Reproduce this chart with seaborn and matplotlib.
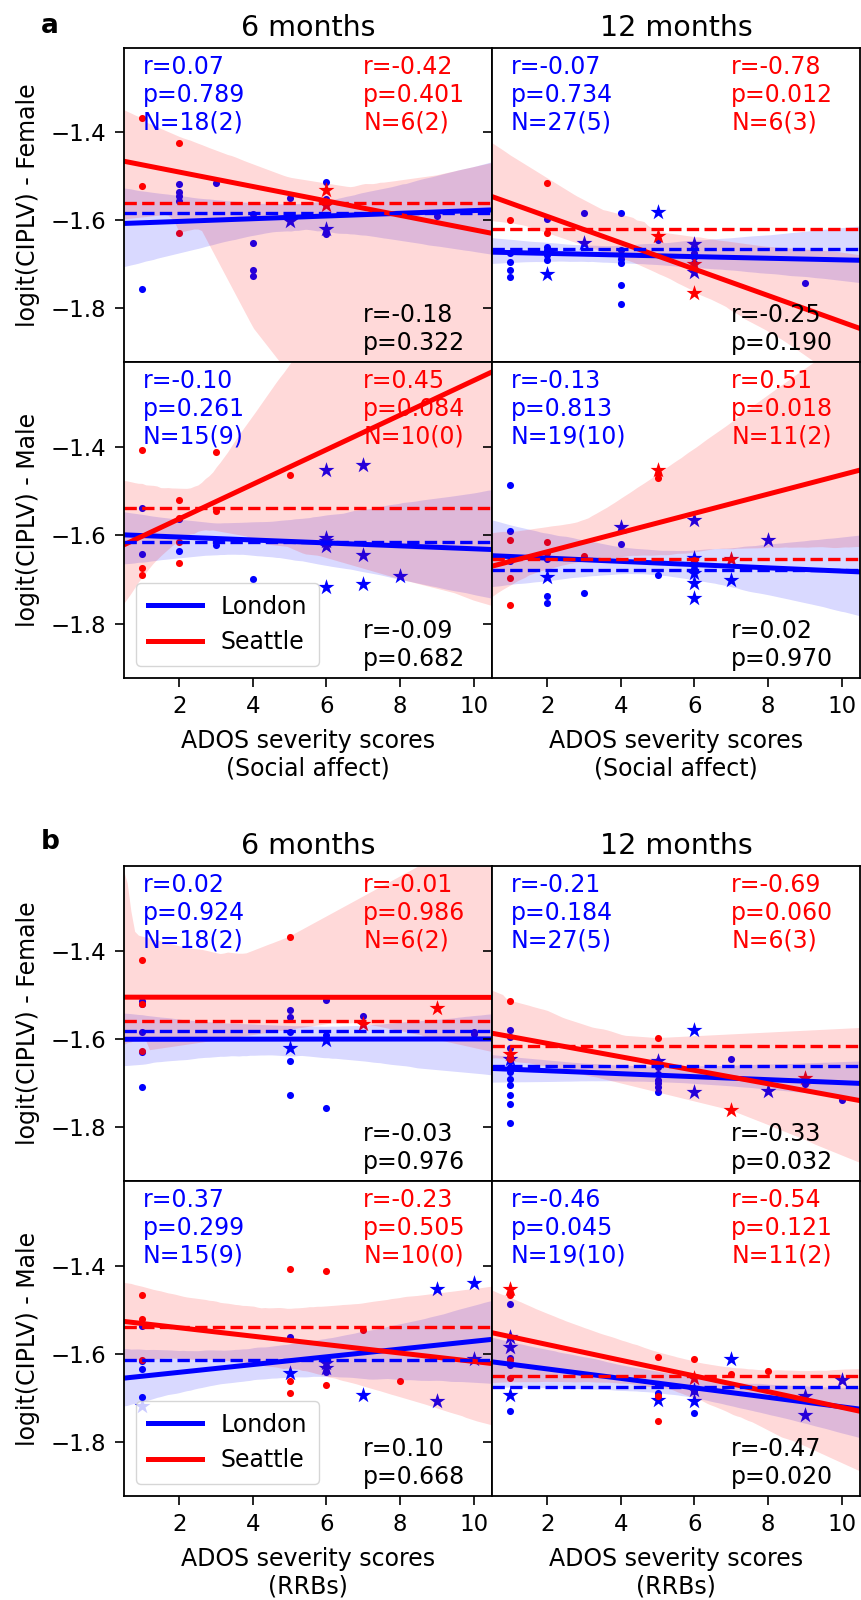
import numpy as np
import pandas as pd
import seaborn as sns
import matplotlib.pyplot as plt

# ---------------- block a : ADOS social affect ----------------
# 6 months, female
a6f_lon_dots = [(1, -1.757), (2, -1.518), (2, -1.535), (2, -1.545), (2, -1.555), (3, -1.515),
                (4, -1.585), (4, -1.651), (4, -1.712), (4, -1.727), (5, -1.549), (6, -1.513),
                (6, -1.551), (6, -1.562), (6, -1.630), (9, -1.589)]
a6f_lon_stars = [(5, -1.602), (6, -1.620)]
a6f_sea_dots = [(1, -1.368), (1, -1.522), (2, -1.423), (2, -1.629)]
a6f_sea_stars = [(6, -1.532), (6, -1.565)]
a6f_means = [-1.583, -1.561]
a6f_text = ["r=0.07\np=0.789\nN=18(2)", "r=-0.42\np=0.401\nN=6(2)", "r=-0.18\np=0.322"]

# 12 months, female
a12f_lon_dots = [(1, -1.675), (1, -1.694), (1, -1.712), (1, -1.728), (2, -1.596), (2, -1.660),
                 (2, -1.668), (2, -1.679), (2, -1.691), (3, -1.583), (4, -1.583), (4, -1.668),
                 (4, -1.679), (4, -1.687), (4, -1.698), (4, -1.748), (4, -1.791), (5, -1.645),
                 (6, -1.675), (6, -1.683), (6, -1.698), (9, -1.742)]
a12f_lon_stars = [(2, -1.723), (3, -1.651), (5, -1.581), (6, -1.653), (6, -1.717)]
a12f_sea_dots = [(1, -1.600), (2, -1.515), (2, -1.629)]
a12f_sea_stars = [(5, -1.636), (6, -1.700), (6, -1.765)]
a12f_means = [-1.664, -1.620]
a12f_text = ["r=-0.07\np=0.734\nN=27(5)", "r=-0.78\np=0.012\nN=6(3)", "r=-0.25\np=0.190"]

# 6 months, male
a6m_lon_dots = [(1, -1.537), (1, -1.641), (2, -1.562), (2, -1.635), (3, -1.622), (4, -1.699)]
a6m_lon_stars = [(6, -1.451), (6, -1.605), (6, -1.613), (6, -1.624), (6, -1.717), (7, -1.440),
                 (7, -1.645), (7, -1.709), (8, -1.692)]
a6m_sea_dots = [(1, -1.407), (1, -1.673), (1, -1.690), (2, -1.519), (2, -1.560), (2, -1.615),
                (2, -1.662), (3, -1.411), (3, -1.545), (5, -1.464)]
a6m_sea_stars = []
a6m_means = [-1.614, -1.539]
a6m_text = ["r=-0.10\np=0.261\nN=15(9)", "r=0.45\np=0.084\nN=10(0)", "r=-0.09\np=0.682"]

# 12 months, male
a12m_lon_dots = [(1, -1.487), (1, -1.590), (1, -1.658), (2, -1.654), (2, -1.736), (2, -1.752),
                 (3, -1.731), (4, -1.619), (5, -1.690)]
a12m_lon_stars = [(2, -1.693), (4, -1.581), (6, -1.564), (6, -1.650), (6, -1.669), (6, -1.684),
                  (6, -1.707), (6, -1.741), (7, -1.701), (8, -1.611)]
a12m_sea_dots = [(1, -1.611), (1, -1.697), (1, -1.756), (2, -1.614), (2, -1.639), (3, -1.647),
                 (5, -1.462), (5, -1.471), (6, -1.655)]
a12m_sea_stars = [(5, -1.451), (7, -1.654)]
a12m_means = [-1.677, -1.652]
a12m_text = ["r=-0.13\np=0.813\nN=19(10)", "r=0.51\np=0.018\nN=11(2)", "r=0.02\np=0.970"]

# ---------------- block b : ADOS RRBs ----------------
b6f_lon_dots = [(1, -1.514), (1, -1.521), (1, -1.585), (1, -1.630), (1, -1.709), (5, -1.535),
                (5, -1.551), (5, -1.585), (5, -1.650), (5, -1.726), (6, -1.512), (6, -1.590),
                (6, -1.756), (7, -1.547), (10, -1.585), (10, -1.589)]
b6f_lon_stars = [(5, -1.621), (6, -1.602)]
b6f_sea_dots = [(1, -1.422), (1, -1.520), (1, -1.628), (5, -1.368)]
b6f_sea_stars = [(7, -1.565), (9, -1.530)]
b6f_means = [-1.583, -1.560]
b6f_text = ["r=0.02\np=0.924\nN=18(2)", "r=-0.01\np=0.986\nN=6(2)", "r=-0.03\np=0.976"]

b12f_lon_dots = [(1, -1.580), (1, -1.595), (1, -1.620), (1, -1.640), (1, -1.649), (1, -1.664),
                 (1, -1.675), (1, -1.690), (1, -1.705), (1, -1.728), (1, -1.747), (1, -1.790),
                 (5, -1.650), (5, -1.664), (5, -1.679), (5, -1.694), (5, -1.700), (5, -1.709),
                 (5, -1.720), (7, -1.646), (9, -1.702), (10, -1.739)]
b12f_lon_stars = [(1, -1.645), (5, -1.649), (6, -1.580), (6, -1.720), (8, -1.717)]
b12f_sea_dots = [(1, -1.515), (1, -1.645), (5, -1.598)]
b12f_sea_stars = [(1, -1.634), (7, -1.762), (9, -1.689)]
b12f_means = [-1.662, -1.617]
b12f_text = ["r=-0.21\np=0.184\nN=27(5)", "r=-0.69\np=0.060\nN=6(3)", "r=-0.33\np=0.032"]

b6m_lon_dots = [(1, -1.537), (1, -1.617), (1, -1.634), (1, -1.697), (5, -1.561), (6, -1.640)]
b6m_lon_stars = [(1, -1.718), (5, -1.643), (6, -1.621), (6, -1.632), (7, -1.692), (9, -1.452),
                 (9, -1.707), (10, -1.440), (10, -1.612)]
b6m_sea_dots = [(1, -1.466), (1, -1.520), (1, -1.614), (5, -1.407), (5, -1.661), (5, -1.689),
                (6, -1.411), (6, -1.671), (7, -1.545), (8, -1.661)]
b6m_sea_stars = []
b6m_means = [-1.6135, -1.5385]
b6m_text = ["r=0.37\np=0.299\nN=15(9)", "r=-0.23\np=0.505\nN=10(0)", "r=0.10\np=0.668"]

b12m_lon_dots = [(1, -1.4875), (1, -1.610), (1, -1.625), (1, -1.730), (5, -1.670), (5, -1.6885),
                 (5, -1.695), (6, -1.685), (6, -1.7335)]
b12m_lon_stars = [(1, -1.561), (1, -1.585), (1, -1.692), (5, -1.7035), (6, -1.681), (6, -1.707),
                  (7, -1.612), (9, -1.696), (9, -1.7395), (10, -1.6585)]
b12m_sea_dots = [(1, -1.467), (1, -1.614), (1, -1.655), (5, -1.607), (5, -1.696), (5, -1.752),
                 (6, -1.611), (7, -1.645), (8, -1.638)]
b12m_sea_stars = [(1, -1.452), (6, -1.655)]
b12m_means = [-1.676, -1.651]
b12m_text = ["r=-0.46\np=0.045\nN=19(10)", "r=-0.54\np=0.121\nN=11(2)", "r=-0.47\np=0.020"]

sites = ["London", "Seattle"]
site_colors = ["blue", "red"]
FS = 17


def to_frame(dots, stars):
    rows = [(x, y, "dot") for x, y in dots] + [(x, y, "star") for x, y in stars]
    return pd.DataFrame(rows, columns=["score", "logit", "kind"])


def draw_panel(ax, lon, sea, means, texts):
    ax.set_xlim(0.5, 10.5)
    ax.set_ylim(-1.922, -1.208)
    frames = [to_frame(*lon), to_frame(*sea)]
    for df, col in zip(frames, site_colors):
        d = df[df.kind == "dot"]
        s = df[df.kind == "star"]
        if len(d):
            sns.scatterplot(data=d, x="score", y="logit", color=col, marker="o", s=26,
                            linewidth=0, legend=False, ax=ax)
        if len(s):
            sns.scatterplot(data=s, x="score", y="logit", color=col, marker="*", s=145,
                            linewidth=0, legend=False, ax=ax)
    for df, col, lab in zip(frames, site_colors, sites):
        sns.regplot(data=df, x="score", y="logit", scatter=False, truncate=False, color=col,
                    seed=0, line_kws={"lw": 3.6}, label=lab, ax=ax)
    for m, col in zip(means, site_colors):
        ax.axhline(m, color=col, ls="--", lw=2.4)

    ax.text(0.05, 0.978, texts[0], color="blue", fontsize=FS, va="top", ha="left",
            transform=ax.transAxes)
    ax.text(0.65, 0.978, texts[1], color="red", fontsize=FS, va="top", ha="left",
            transform=ax.transAxes)
    ax.text(0.65, 0.022, texts[2], color="black", fontsize=FS, va="bottom", ha="left",
            transform=ax.transAxes)

    ax.set_xticks([2, 4, 6, 8, 10])
    ax.set_yticks([-1.8, -1.6, -1.4])
    ax.tick_params(labelsize=16.5, length=6.5, width=1.2, pad=6)
    for sp in ax.spines.values():
        sp.set_linewidth(1.3)
    ax.set_xlabel("")
    ax.set_ylabel("")


W, H = 861, 1600
fig = plt.figure(figsize=(W / 100, H / 100), dpi=100)


def rect(x0, x1, y0, y1):
    return [x0 / W, 1 - y1 / H, (x1 - x0) / W, (y1 - y0) / H]


cols = [(124, 492), (492, 860)]
rows = [(48, 362), (362, 678), (866, 1181), (1181, 1496)]

panels = [
    [(a6f_lon_dots, a6f_lon_stars), (a6f_sea_dots, a6f_sea_stars), a6f_means, a6f_text],
    [(a12f_lon_dots, a12f_lon_stars), (a12f_sea_dots, a12f_sea_stars), a12f_means, a12f_text],
    [(a6m_lon_dots, a6m_lon_stars), (a6m_sea_dots, a6m_sea_stars), a6m_means, a6m_text],
    [(a12m_lon_dots, a12m_lon_stars), (a12m_sea_dots, a12m_sea_stars), a12m_means, a12m_text],
    [(b6f_lon_dots, b6f_lon_stars), (b6f_sea_dots, b6f_sea_stars), b6f_means, b6f_text],
    [(b12f_lon_dots, b12f_lon_stars), (b12f_sea_dots, b12f_sea_stars), b12f_means, b12f_text],
    [(b6m_lon_dots, b6m_lon_stars), (b6m_sea_dots, b6m_sea_stars), b6m_means, b6m_text],
    [(b12m_lon_dots, b12m_lon_stars), (b12m_sea_dots, b12m_sea_stars), b12m_means, b12m_text],
]
xlabels = ["ADOS severity scores\n(Social affect)", "ADOS severity scores\n(RRBs)"]
titles = ["6 months", "12 months"]

for k, (lon, sea, means, texts) in enumerate(panels):
    r, c = divmod(k, 2)
    ax = fig.add_axes(rect(*cols[c], *rows[r]))
    draw_panel(ax, lon, sea, means, texts)
    female = r % 2 == 0
    if female:
        ax.tick_params(bottom=False, labelbottom=False)
        ax.set_title(titles[c], fontsize=20.5, pad=9)
    else:
        ax.set_xlabel(xlabels[r // 2], fontsize=FS, labelpad=7.5)
    if c == 1:
        ax.tick_params(labelleft=False)
    else:
        ax.set_ylabel("logit(CIPLV) - " + ("Female" if female else "Male"), fontsize=FS,
                      labelpad=8)
        if not female:
            ax.legend(loc="lower left", fontsize=FS, handlelength=2.3, borderpad=0.5)

fig.text(41 / W, 1 - 33 / H, "a", fontsize=19, fontweight="bold", va="baseline")
fig.text(41 / W, 1 - 849 / H, "b", fontsize=19, fontweight="bold", va="baseline")

fig.savefig("out.png", dpi=100)
